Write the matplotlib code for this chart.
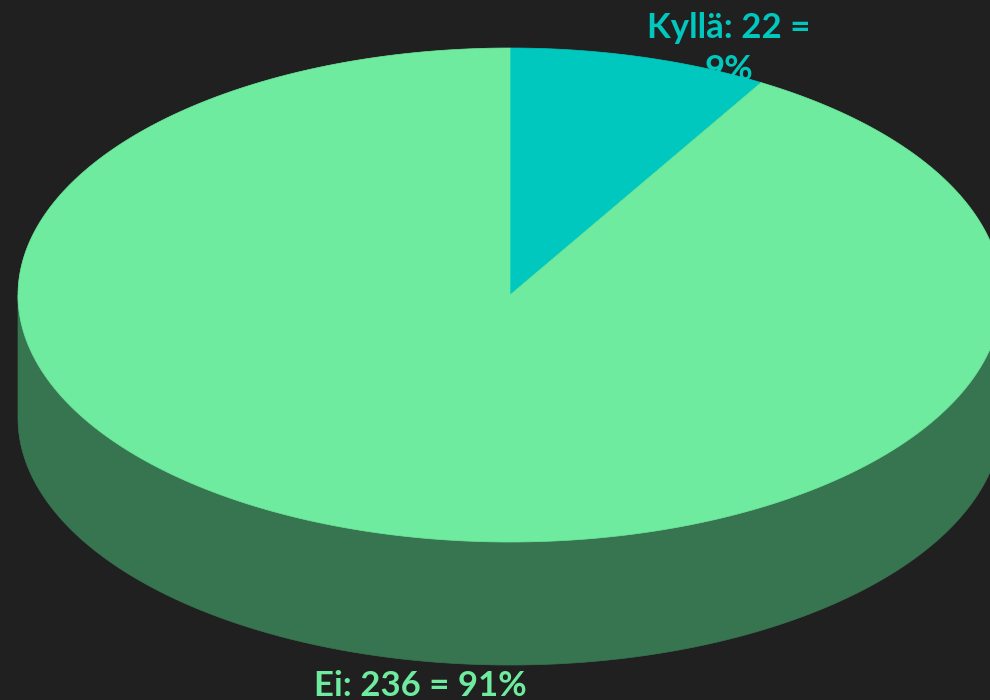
"""3D-style pie chart of yes/no answers."""
import numpy as np
import matplotlib
matplotlib.use("Agg")
import matplotlib.pyplot as plt
from matplotlib.patches import Polygon

labels = ["Kyllä", "Ei"]
values = [22, 236]
top_colors = ["#00C8BE", "#6EEB9E"]
side_colors = ["#00857E", "#377550"]

BG = "#202020"
CX, CY = 510, 295     # ellipse centre (px)
RX, RY = 492, 247     # ellipse radii (px)
DEPTH = 123           # thickness of the pie (px)


def ellipse_pts(t_deg, dy=0):
    t = np.radians(t_deg)
    return np.column_stack([CX + RX * np.cos(t), CY - RY * np.sin(t) + dy])


fig = plt.figure(figsize=(9.9, 7), dpi=100)
fig.patch.set_facecolor(BG)
ax = fig.add_axes([0, 0, 1, 1])
ax.set_facecolor(BG)
ax.set_xlim(0, 990)
ax.set_ylim(700, 0)
ax.axis("off")

total = sum(values)
fracs = [v / total for v in values]
starts = np.concatenate([[0], np.cumsum(fracs)[:-1]])

# slices go clockwise from 12 o'clock
spans = []
for s, f in zip(starts, fracs):
    a1 = 90 - s * 360
    a2 = 90 - (s + f) * 360
    spans.append((a2, a1))

# sides: only the front half (angles between -180 and 0) is visible
for (a2, a1), col in zip(spans, side_colors):
    for shift in (0, -360, 360):
        lo = max(a2 + shift, -180)
        hi = min(a1 + shift, 0)
        if hi <= lo:
            continue
        t = np.linspace(lo, hi, 200)
        top = ellipse_pts(t)
        bot = ellipse_pts(t[::-1], DEPTH)
        ax.add_patch(Polygon(np.vstack([top, bot]), closed=True,
                             facecolor=col, edgecolor=col, lw=0.5, zorder=2))

# top faces
for (a2, a1), col in zip(spans, top_colors):
    t = np.linspace(a2, a1, 400)
    pts = np.vstack([[CX, CY], ellipse_pts(t)])
    ax.add_patch(Polygon(pts, closed=True, facecolor=col, edgecolor=col,
                         lw=0.5, zorder=3))

# labels
pcts = [round(f * 100) for f in fracs]
font = ["Lato", "DejaVu Sans"]
ax.text(729, 12, f"{labels[0]}: {values[0]} =\n{pcts[0]}%", color=top_colors[0],
        fontsize=25, fontweight="bold", family=font, ha="center", va="top",
        linespacing=1.4, zorder=1)
ax.text(420, 670, f"{labels[1]}: {values[1]} = {pcts[1]}%", color=top_colors[1],
        fontsize=25, fontweight="bold", family=font, ha="center", va="top",
        zorder=4)

fig.savefig("out.png", dpi=100, facecolor=fig.get_facecolor())
plt.close(fig)
